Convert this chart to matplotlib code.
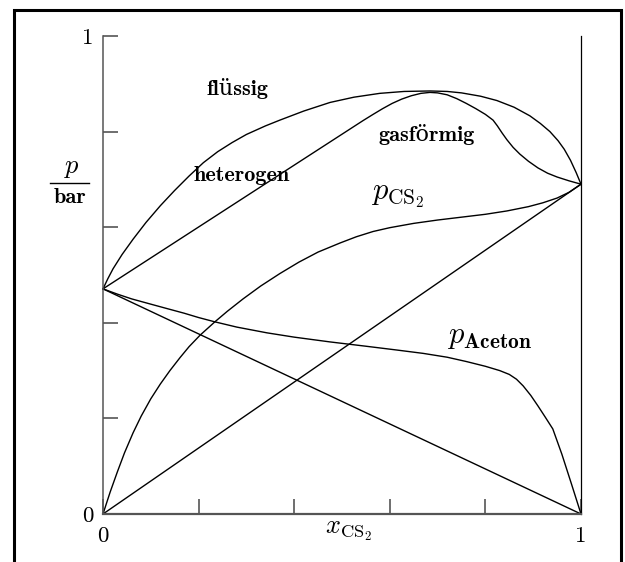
import matplotlib
matplotlib.use("Agg")
import matplotlib.pyplot as plt
from matplotlib.lines import Line2D
from matplotlib.patches import Rectangle

plt.rcParams["mathtext.fontset"] = "cm"

# Ideal (Raoult) straight lines
ideal_aceton_x = [0.0, 1.0]
ideal_aceton_y = [0.471, 0.0]
ideal_cs2_x = [0.0, 1.0]
ideal_cs2_y = [0.0, 0.69]

# Partial pressure of CS2
p_cs2_x = [0.0, 0.015, 0.03, 0.045, 0.063, 0.08, 0.10, 0.12, 0.14, 0.161, 0.18,
           0.203, 0.234, 0.26, 0.293, 0.33, 0.37, 0.41, 0.45, 0.496, 0.53, 0.565,
           0.60, 0.65, 0.70, 0.75, 0.80, 0.845, 0.89, 0.92, 0.95, 0.975, 1.0]
p_cs2_y = [0.0, 0.046, 0.088, 0.128, 0.170, 0.205, 0.241, 0.272, 0.300, 0.327, 0.350,
           0.374, 0.402, 0.424, 0.450, 0.477, 0.503, 0.527, 0.548, 0.567, 0.580, 0.591,
           0.599, 0.608, 0.615, 0.621, 0.627, 0.634, 0.643, 0.651, 0.661, 0.673, 0.69]

# Partial pressure of acetone
p_aceton_x = [0.0, 0.03, 0.06, 0.10, 0.133, 0.17, 0.20, 0.234, 0.28, 0.343, 0.40,
              0.475, 0.55, 0.615, 0.67, 0.72, 0.76, 0.80, 0.83, 0.85, 0.865, 0.879,
              0.895, 0.91, 0.925, 0.941, 0.96, 0.98, 1.0]
p_aceton_y = [0.471, 0.460, 0.450, 0.439, 0.430, 0.420, 0.411, 0.402, 0.391, 0.379,
              0.370, 0.360, 0.351, 0.343, 0.336, 0.328, 0.319, 0.309, 0.300, 0.292,
              0.282, 0.268, 0.248, 0.226, 0.203, 0.178, 0.125, 0.063, 0.0]

# Boiling (liquid) curve
liquid_x = [0.0, 0.01, 0.021, 0.04, 0.063, 0.09, 0.12, 0.15, 0.18, 0.21, 0.24, 0.27,
            0.30, 0.34, 0.37, 0.42, 0.475, 0.525, 0.579, 0.63, 0.684, 0.72, 0.75, 0.79,
            0.824, 0.86, 0.893, 0.915, 0.935, 0.952, 0.965, 0.978, 0.99, 1.0]
liquid_y = [0.471, 0.492, 0.513, 0.543, 0.575, 0.610, 0.645, 0.677, 0.707, 0.735, 0.758,
            0.777, 0.794, 0.812, 0.824, 0.843, 0.861, 0.872, 0.880, 0.884, 0.885, 0.884,
            0.881, 0.874, 0.865, 0.851, 0.833, 0.817, 0.800, 0.781, 0.763, 0.740, 0.714,
            0.69]

# Dew (vapour) curve
vapour_x = [0.0, 0.544, 0.565, 0.585, 0.605, 0.625, 0.645, 0.665, 0.684, 0.70, 0.72,
            0.74, 0.76, 0.78, 0.80, 0.816, 0.825, 0.835, 0.845, 0.858, 0.872, 0.89,
            0.91, 0.93, 0.95, 0.975, 1.0]
vapour_y = [0.471, 0.823, 0.836, 0.848, 0.859, 0.868, 0.875, 0.880, 0.882, 0.881, 0.877,
            0.869, 0.859, 0.848, 0.836, 0.824, 0.812, 0.797, 0.783, 0.767, 0.753, 0.738,
            0.724, 0.713, 0.705, 0.697, 0.69]

x_ticks = [0.0, 0.2, 0.4, 0.6, 0.8, 1.0]
x_tick_labels = ["0", "", "", "", "", "1"]
y_ticks = [0.0, 0.2, 0.4, 0.6, 0.8, 1.0]
y_tick_labels = ["0", "", "", "", "", "1"]

W, H = 625, 562
fig = plt.figure(figsize=(W / 100, H / 100), dpi=100)
ax = fig.add_axes([103 / W, 1 - 514 / H, 478 / W, 478 / H])
ax.set_xlim(0, 1)
ax.set_ylim(0, 1)

line_kw = dict(color="black", lw=1.0, clip_on=False, solid_joinstyle="round")
ax.plot(ideal_aceton_x, ideal_aceton_y, **line_kw)
ax.plot(ideal_cs2_x, ideal_cs2_y, **line_kw)
ax.plot(p_cs2_x, p_cs2_y, **line_kw)
ax.plot(p_aceton_x, p_aceton_y, **line_kw)
ax.plot(liquid_x, liquid_y, **line_kw)
ax.plot(vapour_x, vapour_y, **line_kw)

# Spines
ax.spines["top"].set_visible(False)
ax.spines["left"].set_color("#555555")
ax.spines["left"].set_linewidth(1.1)
ax.spines["bottom"].set_color("#555555")
ax.spines["bottom"].set_linewidth(1.6)
ax.spines["right"].set_color("black")
ax.spines["right"].set_linewidth(0.9)

ax.set_xticks(x_ticks)
ax.set_xticklabels(x_tick_labels, fontfamily="cmr10", fontsize=16.5)
ax.set_yticks(y_ticks)
ax.set_yticklabels(y_tick_labels, fontfamily="cmr10", fontsize=16.5)
ax.tick_params(axis="x", direction="in", length=11, width=1.2, color="#555555", pad=9)
ax.tick_params(axis="y", direction="in", length=11, width=1.2, color="#555555", pad=7)
ax.tick_params(right=False, top=False)

# Region labels
bold_family = ["cmb10", "DejaVu Serif"]
ax.text(0.282, 0.891, "flüssig", fontfamily=bold_family, fontsize=16,
        ha="center", va="center")
ax.text(0.291, 0.709, "heterogen", fontfamily=bold_family, fontsize=16,
        ha="center", va="center")
ax.text(0.678, 0.793, "gasförmig", fontfamily=bold_family, fontsize=16,
        ha="center", va="center")

# Curve labels
ax.text(0.56, 0.659, r"$p_{\mathrm{CS}_2}$", fontsize=22, ha="left", va="baseline")
ax.text(0.72, 0.358, r"$p_{\mathbf{Aceton}}$", fontsize=22, ha="left", va="baseline")

# Axis labels
fig.text(71.5 / W, 1 - 173 / H, r"$p$", fontsize=19, ha="center", va="baseline")
fig.add_artist(Line2D([50 / W, 89 / W], [1 - 183.3 / H, 1 - 183.3 / H],
                      transform=fig.transFigure, color="black", lw=1.0))
fig.text(70 / W, 1 - 203 / H, "bar", fontfamily="cmb10", fontsize=16,
         ha="center", va="baseline")
fig.text(325 / W, 1 - 533 / H, r"$x_{\mathrm{CS}_2}$", fontsize=19,
         ha="left", va="baseline")

# Outer frame
fig.add_artist(Rectangle((13.5 / W, -0.1), (621.3 - 13.5) / W, 1 - 9.7 / H + 0.1,
                         transform=fig.transFigure, fill=False, ec="black", lw=2.2))

fig.savefig("out.png", dpi=100)
